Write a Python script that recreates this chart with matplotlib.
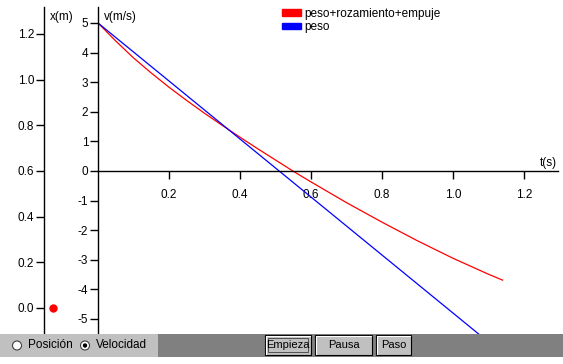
import matplotlib.pyplot as plt
from matplotlib.patches import Rectangle, Circle, Patch

# valores
t_peso = [0.0, 1.2]
v_peso = [5.0, -6.76]

t_total = [0.0, 0.05, 0.1, 0.15, 0.2, 0.25, 0.3, 0.35, 0.4, 0.45, 0.5, 0.55,
           0.6, 0.7, 0.8, 0.9, 1.0, 1.1, 1.14]
v_total = [5.0, 4.39, 3.82, 3.31, 2.83, 2.38, 1.95, 1.54, 1.14, 0.75, 0.37, -0.01,
           -0.37, -1.07, -1.73, -2.36, -2.95, -3.49, -3.69]

x_ticks = [0.0, 0.2, 0.4, 0.6, 0.8, 1.0, 1.2]
v_ticks = [-5, -4, -3, -2, -1, 0, 1, 2, 3, 4, 5]
t_ticks = [0.2, 0.4, 0.6, 0.8, 1.0, 1.2]
x_now = 0.0

W, H = 563, 364
plt.rcParams['font.family'] = ['Liberation Sans', 'DejaVu Sans']
plt.rcParams['axes.unicode_minus'] = False
fs = 8.5

fig = plt.figure(figsize=(W / 100, H / 100), dpi=100)

# eje de velocidad
ax = fig.add_axes([98 / W, 30 / H, (558 - 98) / W, (334 - 7) / H])
ax.set_xlim(0, 1.296)
ax.set_ylim(-5.51, 5.54)
ax.spines['top'].set_visible(False)
ax.spines['right'].set_visible(False)
ax.spines['bottom'].set_position(('data', 0))
ax.spines['left'].set_position(('data', 0))
for s in ('left', 'bottom'):
    ax.spines[s].set_linewidth(1.0)
ax.set_xticks(t_ticks)
ax.set_xticklabels(['%.1f' % t for t in t_ticks])
ax.set_yticks(v_ticks)
ax.set_yticklabels([str(v) for v in v_ticks])
ax.tick_params(axis='x', direction='out', length=6, width=1, pad=7, labelsize=fs)
ax.tick_params(axis='y', direction='out', length=6, width=1, pad=1, labelsize=fs)

ax.plot(t_total, v_total, color='#ff0000', lw=0.9)
ax.plot(t_peso, v_peso, color='#0000ff', lw=0.9)

ax.legend(handles=[Patch(color='#ff0000', label='peso+rozamiento+empuje'),
                   Patch(color='#0000ff', label='peso')],
          loc='upper left', bbox_to_anchor=(282 / W, 1 - 8 / H), bbox_transform=fig.transFigure,
          frameon=False, fontsize=fs, handlelength=1.6, handleheight=0.5,
          handletextpad=0.3, labelspacing=0.1, borderpad=0, borderaxespad=0)

fig.text(104 / W, 1 - 17 / H, 'v(m/s)', fontsize=fs, va='center', ha='left')
fig.text(50 / W, 1 - 17 / H, 'x(m)', fontsize=fs, va='center', ha='left')
fig.text(540 / W, 1 - 163 / H, 't(s)', fontsize=fs, va='center', ha='left')

# eje de posicion
axx = fig.add_axes([44 / W, 30 / H, 36 / W, (334 - 7) / H])
axx.patch.set_visible(False)
axx.set_xlim(0, 1)
axx.set_ylim(-0.114, 1.318)
for s in ('top', 'right', 'bottom'):
    axx.spines[s].set_visible(False)
axx.spines['left'].set_linewidth(1.0)
axx.set_xticks([])
axx.set_yticks(x_ticks)
axx.set_yticklabels(['%.1f' % x for x in x_ticks])
axx.tick_params(axis='y', direction='out', length=6, width=1, pad=1, labelsize=fs)
axx.plot([0.25], [x_now], 'o', color='#ff0000', ms=5, clip_on=False)

# panel de controles
axp = fig.add_axes([0, 7 / H, 1, 23 / H])
axp.set_xlim(0, W)
axp.set_ylim(23, 0)
axp.axis('off')
axp.add_patch(Rectangle((0, 0), 158, 23, color='#c0c0c0', lw=0))
axp.add_patch(Rectangle((158, 0), W - 158, 23, color='#808080', lw=0))

for cx, label, sel in [(17, 'Posición', False), (85, 'Velocidad', True)]:
    axp.add_patch(Circle((cx, 11.5), 4.5, facecolor='white', edgecolor='#404040', lw=0.8))
    if sel:
        axp.add_patch(Circle((cx, 11.5), 1.5, color='black'))
    axp.text(cx + 11, 11.5, label, fontsize=fs, va='center', ha='left')

for x0, x1, label in [(265, 311, 'Empieza'), (315, 372, 'Pausa'), (376, 411, 'Paso')]:
    axp.add_patch(Rectangle((x0, 1), x1 - x0, 20, facecolor='#c0c0c0', edgecolor='black', lw=0.8))
    axp.plot([x0 + 1, x0 + 1, x1 - 1], [20, 2, 2], color='white', lw=0.8)
    axp.text((x0 + x1) / 2, 11.5, label, fontsize=8, va='center', ha='center')
axp.add_patch(Rectangle((268, 4), 40, 14, fill=False, edgecolor='#404040', lw=0.6))

fig.savefig('out.png', dpi=100)
